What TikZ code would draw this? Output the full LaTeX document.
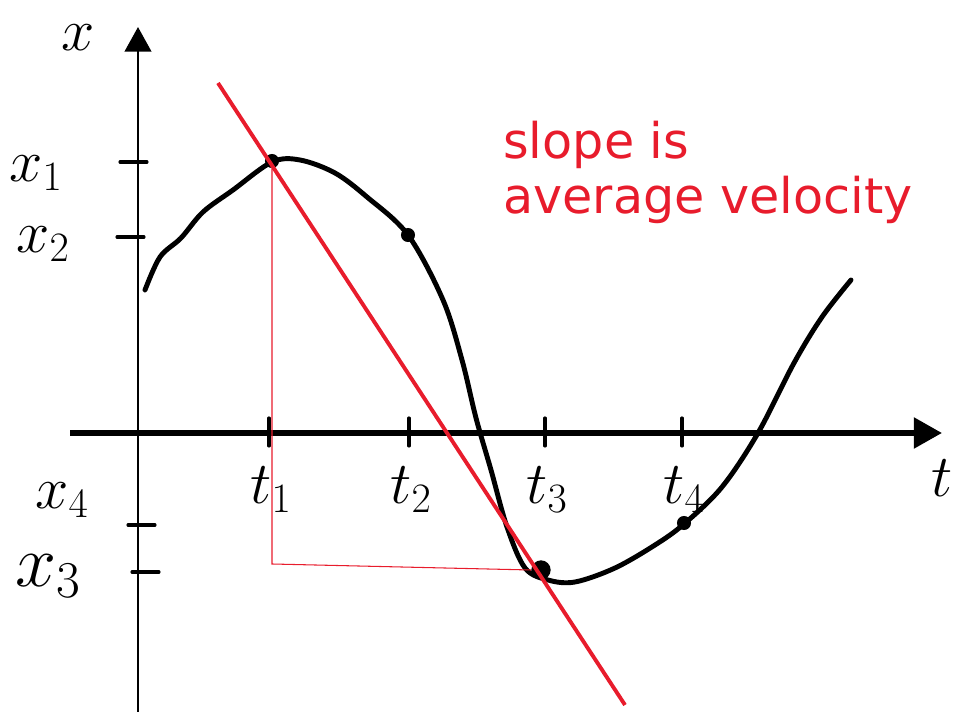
\RequirePackage{fix-cm}
\documentclass[tikz,border=0pt]{standalone}
\usepackage{fontspec}
\setsansfont{DejaVu Sans}
\usetikzlibrary{arrows.meta}
\definecolor{penred}{RGB}{232,28,44}
\tikzset{
	vaxis/.style={line width=1.7pt, -{Triangle[length=14pt,width=15pt]}},
	haxis/.style={line width=3.3pt, -{Triangle[length=16pt,width=17pt]}},
	tickmark/.style={line width=1.8pt, line cap=round},
	lbl/.style={font=\fontsize{34}{40}\selectfont, inner sep=0pt},
	dot/.style={circle, fill=black, inner sep=0pt, minimum size=8pt}
}
\begin{document}
\begin{tikzpicture}[x=0.02cm,y=-0.02cm]
		\useasboundingbox (0,0) rectangle (961,715);
		% ===== AXES =====
		\draw[vaxis] (138,712) -- (138,27);
		\draw[haxis] (70,433) -- (942,433);
		\node[lbl] (xlab) at (78,38) {$x$};
		\node[lbl] (tlab) at (942,478) {$t$};
		% Ticks and labels on the x axis
		\foreach \y/\xa/\lab/\px/\py/\fs in {162/120/{$x_1$}/36/173/34, 237/117/{$x_2$}/43/244/34, 525/128/{$x_4$}/62/500/34, 572/132/{$x_3$}/48/576/42} {
			\draw[tickmark] (\xa,\y) -- (\xa+27,\y);
			\node[lbl, font=\fontsize{\fs}{40}\selectfont] at (\px,\py) {\lab};
		}
		% Ticks and labels on the t axis
		\foreach \x/\lab in {269/{$t_1$}, 409/{$t_2$}, 545/{$t_3$}, 682/{$t_4$}} {
			\draw[tickmark] (\x,418) -- (\x,446);
			\node[lbl] at (\x+2,490) {\lab};
		}
		% ===== POSITION CURVE =====
		\draw[line width=2.8pt, line cap=round] plot[smooth, tension=0.55] coordinates {
			(145,290) (160,257) (181,238) (203,212) (233,190) (272,162) (300,160) (335,173)
			(367,197) (408,235) (443,300) (462,360) (476,418) (491,470) (507,527) (525,568)
			(548,580) (575,582) (615,568) (655,545) (684,524) (722,487) (758,433) (794,363)
			(822,317) (851,280)};
		\node[dot] (p1) at (272,161) {};
		\node[dot] (p2) at (408,235) {};
		\node[dot, minimum size=11pt] (p3) at (541,570) {};
		\node[dot] (p4) at (684,523) {};
		% ===== SECANT (average velocity) =====
		\coordinate (secA) at (218,83);
		\coordinate (secB) at (625,705);
		\draw[penred, line width=2.2pt] (secA) -- (secB);
		\coordinate (corner) at (272,564);
		\draw[penred, line width=0.6pt] (p1.south) -- (corner) -- (p3.west);
		\node[penred, font=\sffamily\fontsize{28}{31}\selectfont, align=left, anchor=north west, inner sep=0pt] (slopetext) at (503,121) {slope is\\average velocity};
	\end{tikzpicture}
\end{document}
